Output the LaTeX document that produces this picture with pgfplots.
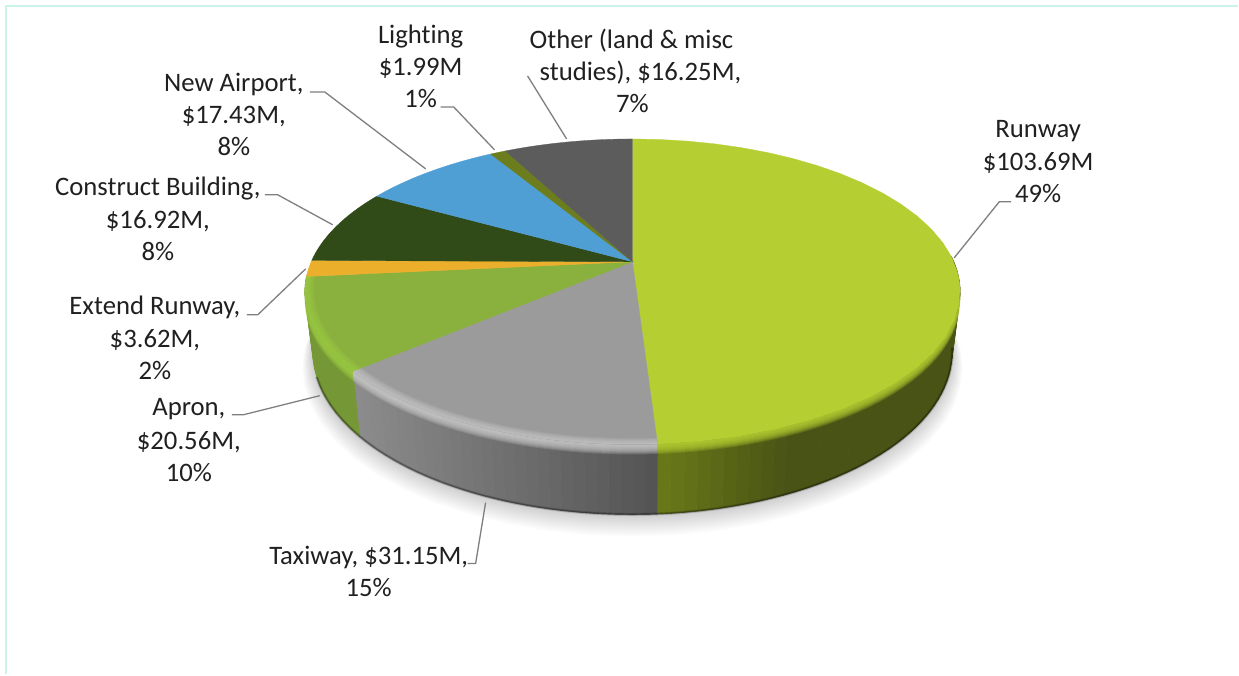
\documentclass[border=0pt]{standalone}
\usepackage{pgfplots}
\pgfplotsset{compat=1.18}
\usepackage{fontspec}
\setmainfont[Ligatures={NoCommon}]{Carlito}
\definecolor{labeltext}{HTML}{202020}
\definecolor{leader}{HTML}{7F7F7F}
\definecolor{frameline}{HTML}{CCF3EA}
\definecolor{cRunway}{HTML}{B5CF32}
\definecolor{cTaxiway}{HTML}{9B9B9B}
\definecolor{cApron}{HTML}{8AB03E}
\definecolor{cExtend}{HTML}{EBAF2B}
\definecolor{cBuilding}{HTML}{304A18}
\definecolor{cAirport}{HTML}{4F9FD5}
\definecolor{cLighting}{HTML}{6C7D1E}
\definecolor{cOther}{HTML}{5C5C5C}
\definecolor{hRunway}{HTML}{BAD636}
\definecolor{hTaxiway}{HTML}{CACACA}
\definecolor{hApron}{HTML}{9DCE44}
\tikzset{lab/.style={anchor=base,text=labeltext,inner sep=0pt,font=\fontsize{26.7}{30}\selectfont}}

% Project funding in millions of dollars, clockwise from twelve o'clock
\def\vRunway{103.69}
\def\vTaxiway{31.15}
\def\vApron{20.56}
\def\vExtend{3.62}
\def\vBuilding{16.92}
\def\vAirport{17.43}
\def\vLighting{1.99}
\def\vOther{16.25}
\pgfmathsetmacro\total{\vRunway+\vTaxiway+\vApron+\vExtend+\vBuilding+\vAirport+\vLighting+\vOther}
\pgfmathsetmacro\angA{360*(\vRunway/\total)}
\pgfmathsetmacro\angB{\angA+360*(\vTaxiway/\total)}
\pgfmathsetmacro\angC{\angB+360*(\vApron/\total)}
\pgfmathsetmacro\angD{\angC+360*(\vExtend/\total)}
\pgfmathsetmacro\angE{\angD+360*(\vBuilding/\total)}
\pgfmathsetmacro\angF{\angE+360*(\vAirport/\total)}
\pgfmathsetmacro\angG{\angF+360*(\vLighting/\total)}

% Perspective of the disc: the rims are projected circles
\def\kval{0.196}
\def\aT{321.6}\def\bT{147}\def\yT{262}
\def\aB{313.8}\def\bB{156.7}\def\yB{320}

% Append points of a projected arc to \ptlist: a, b, y0, radius, from, to, steps
\newcommand\addarc[7]{%
  \pgfmathsetmacro\dstep{(#6-#5)/#7}%
  \foreach \ii in {0,...,#7}{%
    \pgfmathsetmacro\tang{#5+\ii*\dstep}%
    \pgfmathsetmacro\den{1+\kval*#4*cos(\tang)}%
    \pgfmathsetmacro\px{633+#1*#4*sin(\tang)/\den}%
    \pgfmathsetmacro\py{#3-#2*#4*cos(\tang)/\den}%
    \xdef\ptlist{\ptlist(\px,\py)}%
  }}
\newcommand\plotlist[1]{\edef\temp{\noexpand\addplot[#1] coordinates {\ptlist} --cycle;}\temp}

% Wedge of the top face
\newcommand\topwedge[3]{%
  \xdef\ptlist{(633,\yT)}%
  \addarc{\aT}{\bT}{\yT}{1}{#1}{#2}{30}%
  \plotlist{fill=#3,draw=#3,line width=0.3pt}}

% Strip of the outer wall between two angles
\newcommand\wallstrip[5]{%
  \xdef\ptlist{}%
  \addarc{\aT}{\bT}{\yT}{1}{#1}{#2}{1}%
  \addarc{\aB}{\bB}{\yB}{1}{#2}{#1}{1}%
  \edef\wc{{rgb,255:red,#3;green,#4;blue,#5}}%
  \plotlist{fill=\wc,draw=\wc,line width=0.6pt}}

% Band just inside the top rim
\newcommand\rimband[5]{%
  \xdef\ptlist{}%
  \addarc{\aT}{\bT}{\yT}{1}{#1}{#2}{30}%
  \addarc{\aT}{\bT}{\yT}{#3}{#2}{#1}{30}%
  \plotlist{fill=#4,draw=none,fill opacity=#5}}

% Band below the top rim, where the bevel rounds into the wall
\newcommand\lowerband[5]{%
  \xdef\ptlist{}%
  \pgfmathsetmacro\yS{\yT+#3}%
  \addarc{\aT}{\bT}{\yS}{1}{#1}{#2}{30}%
  \addarc{\aT}{\bT}{\yT}{1}{#2}{#1}{30}%
  \plotlist{fill=#4,draw=none,fill opacity=#5}}

\begin{document}
\begin{tikzpicture}
\begin{axis}[
  scale only axis, width=1239pt, height=675pt,
  xmin=0, xmax=1239, ymin=0, ymax=675, y dir=reverse,
  hide axis, clip=false,
  every axis plot/.append style={mark=none}
]
\addplot[fill=white,draw=none] coordinates {(0,0)(1239,0)(1239,675)(0,675)} --cycle;
\addplot[frameline,line width=2pt] coordinates {(6,675)(6,6)(1239,6)};

% Soft shadow under the disc
\foreach \s in {12,11,...,1}{%
  \pgfmathsetmacro\scl{1+0.0026*\s}%
  \pgfmathsetmacro\ysh{\yB+1.2*\s}%
  \xdef\ptlist{}%
  \addarc{\aB}{\bB}{\ysh}{\scl}{60}{300}{40}%
  \plotlist{fill=black,draw=none,fill opacity=0.016}%
}

% Outer walls, shaded across their width
\pgfmathsetmacro\st{(\angA-88)/45}
\foreach \s in {0,...,44}{%
  \pgfmathsetmacro\ta{88+\s*\st}\pgfmathsetmacro\tb{\ta+\st}%
  \pgfmathsetmacro\xm{\aT*sin((\ta+\tb)/2)/(1+\kval*cos((\ta+\tb)/2))+633}%
  \pgfmathsetmacro\fr{min(1,max(0,(\xm-657)/133))}%
  \pgfmathtruncatemacro\cR{107-34*\fr}%
  \pgfmathtruncatemacro\cG{123-40*\fr}%
  \pgfmathtruncatemacro\cB{25-4*\fr}%
  \wallstrip{\ta}{\tb}{\cR}{\cG}{\cB}%
}
\pgfmathsetmacro\st{(\angB-\angA)/30}
\foreach \s in {0,...,29}{%
  \pgfmathsetmacro\ta{\angA+\s*\st}\pgfmathsetmacro\tb{\ta+\st}%
  \pgfmathsetmacro\xm{\aT*sin((\ta+\tb)/2)/(1+\kval*cos((\ta+\tb)/2))+633}%
  \pgfmathsetmacro\fr{min(1,max(0,(\xm-355)/302))}%
  \pgfmathtruncatemacro\cG{140-56*\fr}%
  \wallstrip{\ta}{\tb}{\cG}{\cG}{\cG}%
}
\pgfmathsetmacro\st{(\angC-\angB)/12}
\foreach \s in {0,...,11}{%
  \pgfmathsetmacro\ta{\angB+\s*\st}\pgfmathsetmacro\tb{\ta+\st}%
  \wallstrip{\ta}{\tb}{117}{151}{53}%
}

% Dark lip along the lower edge of the wall
\foreach \lw/\lo in {3.2/0.10,2.2/0.14,1.2/0.2}{%
  \xdef\ptlist{}%
  \addarc{\aB}{\bB}{\yB}{1}{100}{250}{60}%
  \edef\temp{\noexpand\addplot[draw=black,line width=\lw pt,opacity=\lo] coordinates {\ptlist};}\temp
}

% Bevel fading from the rim into the wall
\foreach \dd in {10,9,...,1}{%
  \lowerband{95}{\angA}{\dd}{cRunway}{0.2}%
  \lowerband{\angA}{\angB}{\dd}{hTaxiway}{0.2}%
  \lowerband{\angB}{\angC}{\dd}{hApron}{0.2}%
}

% Top face
\topwedge{0}{\angA}{cRunway}
\topwedge{\angA}{\angB}{cTaxiway}
\topwedge{\angB}{\angC}{cApron}
\topwedge{\angC}{\angD}{cExtend}
\topwedge{\angD}{\angE}{cBuilding}
\topwedge{\angE}{\angF}{cAirport}
\topwedge{\angF}{\angG}{cLighting}
\topwedge{\angG}{360}{cOther}

% Highlight inside the front rim
\foreach \rr in {0.972,0.976,0.98,0.984,0.988,0.992,0.996}{%
  \rimband{\angA}{\angB}{\rr}{hTaxiway}{0.17}%
  \rimband{\angB}{\angC}{\rr}{hApron}{0.17}%
}

% Leader lines
\addplot[leader,line width=1.3pt] coordinates {(955,258)(1000,202)(1012,202)};
\addplot[leader,line width=1.3pt] coordinates {(486,503)(476,564)(468,564)};
\addplot[leader,line width=1.3pt] coordinates {(320,396)(244,415)(232,415)};
\addplot[leader,line width=1.3pt] coordinates {(306,269)(258,315)(247,315)};
\addplot[leader,line width=1.3pt] coordinates {(333,225)(278,195)(265,195)};
\addplot[leader,line width=1.3pt] coordinates {(426,169)(325,92)(310,92)};
\addplot[leader,line width=1.3pt] coordinates {(495,150)(454,107)(441,107)};
\addplot[leader,line width=1.3pt] coordinates {(567,139)(528,76)};

% Data labels
\node[lab] at (axis cs:1039,138) {Runway};
\node[lab] at (axis cs:1039,171) {\$103.69M};
\node[lab] at (axis cs:1039,203) {49\%};
\node[lab] at (axis cs:421,44) {Lighting};
\node[lab] at (axis cs:421,76) {\$1.99M};
\node[lab] at (axis cs:421,108) {1\%};
\node[lab] at (axis cs:632,49) {Other (land \& misc};
\node[lab] at (axis cs:641,81) {studies), \$16.25M,};
\node[lab] at (axis cs:633,113) {7\%};
\node[lab] at (axis cs:234,92) {New Airport,};
\node[lab] at (axis cs:234,124) {\$17.43M,};
\node[lab] at (axis cs:234,156) {8\%};
\node[lab] at (axis cs:158,196) {Construct Building,};
\node[lab] at (axis cs:158,229) {\$16.92M,};
\node[lab] at (axis cs:158,261) {8\%};
\node[lab] at (axis cs:155,315) {Extend Runway,};
\node[lab] at (axis cs:155,348) {\$3.62M,};
\node[lab] at (axis cs:155,380) {2\%};
\node[lab] at (axis cs:189,416) {Apron,};
\node[lab] at (axis cs:189,450) {\$20.56M,};
\node[lab] at (axis cs:189,482) {10\%};
\node[lab] at (axis cs:369,565) {Taxiway, \$31.15M,};
\node[lab] at (axis cs:369,597) {15\%};
\end{axis}
\end{tikzpicture}
\end{document}
